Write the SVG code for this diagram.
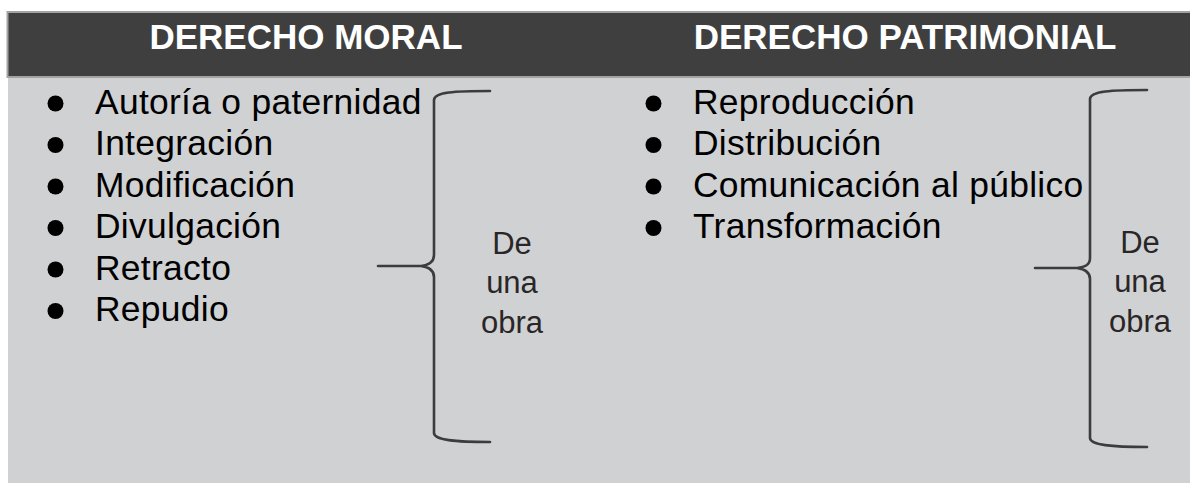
<svg xmlns="http://www.w3.org/2000/svg" width="1190" height="483" viewBox="0 0 1190 483">
<style>
.hdr{fill:#3f3f3f;stroke:#a3a3a3;stroke-width:2}
.body{fill:#d0d1d3}
.ht{font-family:"Liberation Sans",Arial,sans-serif;font-weight:bold;font-size:35px;fill:#ffffff;text-anchor:middle}
.li{font-family:"Liberation Sans",Arial,sans-serif;font-size:35.4px;letter-spacing:0.3px;fill:#000000}
.note{font-family:"Liberation Sans",Arial,sans-serif;font-size:31px;fill:#2a2627;text-anchor:middle}
.bul{fill:#000000}
.brace{fill:none;stroke:#3c3c3c;stroke-width:2.6;stroke-linecap:round;stroke-linejoin:round}
</style>
<rect x="0" y="0" width="1190" height="483" fill="#ffffff"/>
<g id="background">
<rect class="body" x="8" y="77" width="1182" height="406"/>
<rect class="hdr" x="7.5" y="12" width="1184" height="65"/>
</g>
<g id="header-moral"><text class="ht" x="306" y="49">DERECHO MORAL</text></g>
<g id="header-patrimonial"><text class="ht" x="905" y="49">DERECHO PATRIMONIAL</text></g>
<g id="list-moral">
<circle class="bul" cx="55.5" cy="103.5" r="8"/><text class="li" x="95" y="113.5">Autoría o paternidad</text>
<circle class="bul" cx="55.5" cy="145" r="8"/><text class="li" x="95" y="155">Integración</text>
<circle class="bul" cx="55.5" cy="186.5" r="8"/><text class="li" x="95" y="196.5">Modificación</text>
<circle class="bul" cx="55.5" cy="228" r="8"/><text class="li" x="95" y="238">Divulgación</text>
<circle class="bul" cx="55.5" cy="269.5" r="8"/><text class="li" x="95" y="279.5">Retracto</text>
<circle class="bul" cx="55.5" cy="311" r="8"/><text class="li" x="95" y="321">Repudio</text>
</g>
<g id="list-patrimonial">
<circle class="bul" cx="653.5" cy="103.5" r="8"/><text class="li" x="693" y="113.5">Reproducción</text>
<circle class="bul" cx="653.5" cy="145" r="8"/><text class="li" x="693" y="155">Distribución</text>
<circle class="bul" cx="653.5" cy="186.5" r="8"/><text class="li" x="693" y="196.5">Comunicación al público</text>
<circle class="bul" cx="653.5" cy="228" r="8"/><text class="li" x="693" y="238">Transformación</text>
</g>
<g id="note-moral"><text class="note" x="512" y="254">De</text><text class="note" x="512" y="293">una</text><text class="note" x="512" y="333">obra</text></g>
<g id="note-patrimonial"><text class="note" x="1140" y="253">De</text><text class="note" x="1140" y="292">una</text><text class="note" x="1140" y="332">obra</text></g>
<g id="connectors">
<path class="brace" d="M490,91 C455,91 434,92 434,100 L434,255 C434,262 429,265 421,266 L378,266 M421,266 C429,267 434,270 434,277 L434,433 C434,440 455,442 490,442"/>
<path class="brace" d="M1147,90 C1112,90 1090,91 1090,99 L1090,258 C1090,265 1085,267 1077,268 L1035,268 M1077,268 C1085,269 1090,272 1090,279 L1090,438 C1090,445 1112,447 1147,447"/>
</g>
</svg>
